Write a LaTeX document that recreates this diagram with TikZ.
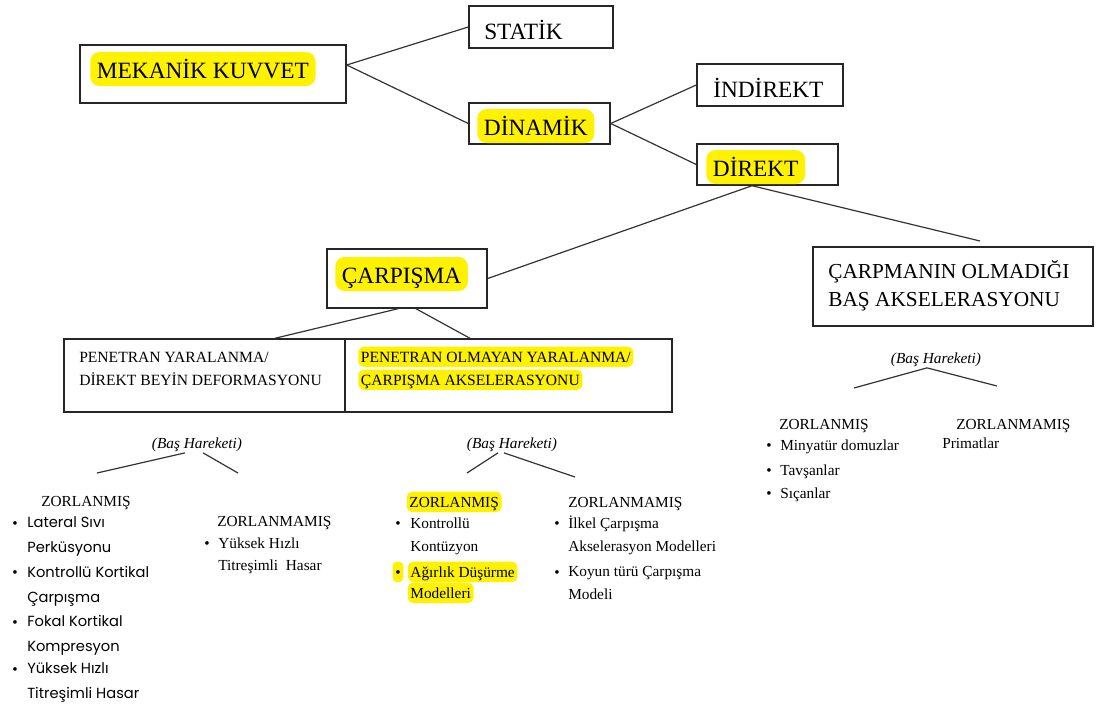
\documentclass[tikz,border=0pt]{standalone}
\usepackage{fontspec}
\setmainfont{Liberation Serif}
\newfontfamily\gothic{Poppins}
\tikzset{
    box/.style = {
       shape=rectangle,
       draw=black!85, line width=1.1pt,
       inner sep=0pt
    },
    big/.style = {
       font=\fontsize{17.5}{21}\selectfont,
       anchor=base west, inner sep=0pt
    },
    bighl/.style = {
       big, fill=yellow, rounded corners=7pt,
       inner xsep=5pt, text height=19.5pt, text depth=6pt
    },
    tab/.style = {
       font=\fontsize{11.7}{17.25}\selectfont,
       anchor=base west, inner sep=0pt, align=left
    },
    tabhl/.style = {
       tab, fill=yellow, rounded corners=4pt,
       inner xsep=2pt, text height=11.5pt, text depth=3.6pt
    },
    small/.style = {
       font=\fontsize{11.5}{17}\selectfont,
       anchor=base west, inner sep=0pt, align=left
    },
    smallhl/.style = {
       small, fill=yellow, rounded corners=4pt,
       inner xsep=2pt, text height=11.5pt, text depth=3.8pt
    },
    sans/.style = {
       font=\gothic\fontsize{11}{18.2}\selectfont,
       anchor=base west, inner sep=0pt, align=left
    },
    dot/.style = {
       font=\fontsize{11.5}{14}\selectfont,
       anchor=base, inner sep=0pt
    },
    move/.style = {
       font=\itshape\fontsize{11.5}{14}\selectfont,
       anchor=base, inner sep=1pt
    },
    line/.style = {
       draw=black!80, line width=0.9pt
    }
}

\begin{document}
\begin{tikzpicture}[x=0.75pt,y=-0.75pt]
   \useasboundingbox (0,0) rectangle (1100,707);
   % boxes
   \node[box, minimum width=199.5pt, minimum height=43.5pt] (MekanikKuvvet) at (213,74) {};
   \node[box, minimum width=108pt, minimum height=31.5pt] (Statik) at (541,27) {};
   \node[box, minimum width=105.75pt, minimum height=30.75pt] (Dinamik) at (539.5,123.5) {};
   \node[box, minimum width=109.5pt, minimum height=31.5pt] (Indirekt) at (770,85) {};
   \node[box, minimum width=105.75pt, minimum height=30.75pt] (Direkt) at (767.5,164.5) {};
   \node[box, minimum width=120pt, minimum height=44.25pt] (Carpisma) at (407,278.5) {};
   \node[box, minimum width=210pt, minimum height=59.25pt] (CarpmaninOlmadigi) at (953,286.5) {};
   \node[box, minimum width=210.75pt, minimum height=54.75pt] (Penetran) at (204.5,375.5) {};
   \node[box, minimum width=245.25pt, minimum height=54.75pt] (PenetranOlmayan) at (508.5,375.5) {};
   % box texts (multi-line nodes sit on their last line)
   \node[bighl] (MekanikText) at (90,78) {MEKANİK KUVVET};
   \node[big] (StatikText) at (484,39) {STATİK};
   \node[bighl] (DinamikText) at (477,135) {DİNAMİK};
   \node[big] (IndirektText) at (713,97) {İNDİREKT};
   \node[bighl] (DirektText) at (706,176) {DİREKT};
   \node[bighl] (CarpismaText) at (335,283) {ÇARPIŞMA};
   \node[big, font=\fontsize{16}{21}\selectfont, align=left] (CarpmaninText) at (828,306) {ÇARPMANIN OLMADIĞI\\BAŞ AKSELERASYONU};
   \node[tab] (PenetranText) at (79,385) {PENETRAN YARALANMA/\\DİREKT BEYİN DEFORMASYONU};
   \node[tabhl] (OlmayanText1) at (358,362) {PENETRAN OLMAYAN YARALANMA/};
   \node[tabhl] (OlmayanText2) at (358,385) {ÇARPIŞMA AKSELERASYONU};
   % (Baş Hareketi)
   \node[move] (Hareket1) at (197,448) {(Baş Hareketi)};
   \node[move] (Hareket2) at (512,448) {(Baş Hareketi)};
   \node[move] (Hareket3) at (936,363) {(Baş Hareketi)};
   \coordinate (H1Sol) at (97,473);
   \coordinate (H1Sag) at (238,473);
   \coordinate (H2Sol) at (467,473);
   \coordinate (H2Sag) at (575,477);
   \coordinate (H3Sol) at (854,388);
   \coordinate (H3Sag) at (997,386);
   \coordinate (DirektUc) at (980,241);
   % left group
   \node[small] (Zorlanmis1) at (41,506) {ZORLANMIŞ};
   \foreach \y in {528,577,627,674}
      \node[dot] (Bullet1-\y) at (15,\y) {\textbullet};
   \node[sans] (Lateral) at (27,552) {Lateral Sıvı\\Perküsyonu};
   \node[sans] (Kortikal) at (27,602) {Kontrollü Kortikal\\Çarpışma};
   \node[sans] (Fokal) at (27,651) {Fokal Kortikal\\Kompresyon};
   \node[sans] (Yuksek1) at (27,698) {Yüksek Hızlı\\Titreşimli Hasar};
   \node[small] (Zorlanmamis1) at (217,526) {ZORLANMAMIŞ};
   \node[dot] (Bullet2) at (207,548) {\textbullet};
   \node[small, font=\fontsize{11.5}{16.5}\selectfont] (Yuksek2) at (218,570) {Yüksek Hızlı\\Titreşimli\ \ Hasar};
   % middle group
   \node[smallhl] (Zorlanmis2) at (406.5,507) {ZORLANMIŞ};
   \node[dot] (Bullet3) at (398,528) {\textbullet};
   \node[small] (Kontuzyon) at (410,551) {Kontrollü\\Kontüzyon};
   \node[dot, fill=yellow, rounded corners=3pt, inner xsep=2pt, text height=11.5pt, text depth=3.8pt] (Bullet4) at (398,577) {\textbullet};
   \node[smallhl] (Agirlik1) at (407.5,577) {Ağırlık Düşürme};
   \node[smallhl] (Agirlik2) at (407.5,598) {Modelleri};
   \node[small] (Zorlanmamis2) at (568,507) {ZORLANMAMIŞ};
   \node[dot] (Bullet5) at (557,528) {\textbullet};
   \node[small] (Ilkel) at (568,551) {İlkel Çarpışma\\Akselerasyon Modelleri};
   \node[dot] (Bullet6) at (557,577) {\textbullet};
   \node[small] (Koyun) at (568,599) {Koyun türü Çarpışma\\Modeli};
   % right group
   \node[small] (Zorlanmis3) at (779,429) {ZORLANMIŞ};
   \foreach \y in {450,475,498}
      \node[dot] (Bullet7-\y) at (769,\y) {\textbullet};
   \node[small] (Minyatur) at (780,450) {Minyatür domuzlar};
   \node[small] (Tavsan) at (780,475) {Tavşanlar};
   \node[small] (Sican) at (780,498) {Sıçanlar};
   \node[small] (Zorlanmamis3) at (956,429) {ZORLANMAMIŞ};
   \node[small] (Primat) at (942,448) {Primatlar};
\path[line]
([yshift=6.75pt]MekanikKuvvet.east) edge (Statik.west)
([yshift=6.75pt]MekanikKuvvet.east) edge (Dinamik.west)
(Dinamik.east) edge (Indirekt.west)
(Dinamik.east) edge (Direkt.west)
([xshift=-11.6pt]Direkt.south) edge (Carpisma.east)
([xshift=-11.6pt]Direkt.south) edge (DirektUc)
([xshift=-6.75pt]Carpisma.south) edge ([xshift=52.9pt]Penetran.north)
([xshift=6.75pt]Carpisma.south) edge ([xshift=-28.9pt]PenetranOlmayan.north)
([xshift=-9pt]Hareket1.south) edge (H1Sol)
([xshift=4.5pt]Hareket1.south) edge (H1Sag)
([xshift=-10.5pt]Hareket2.south) edge (H2Sol)
([xshift=-6pt]Hareket2.south) edge (H2Sag)
([xshift=-6.75pt]Hareket3.south) edge (H3Sol)
([xshift=-6.75pt]Hareket3.south) edge (H3Sag);
\end{tikzpicture}
\end{document}
